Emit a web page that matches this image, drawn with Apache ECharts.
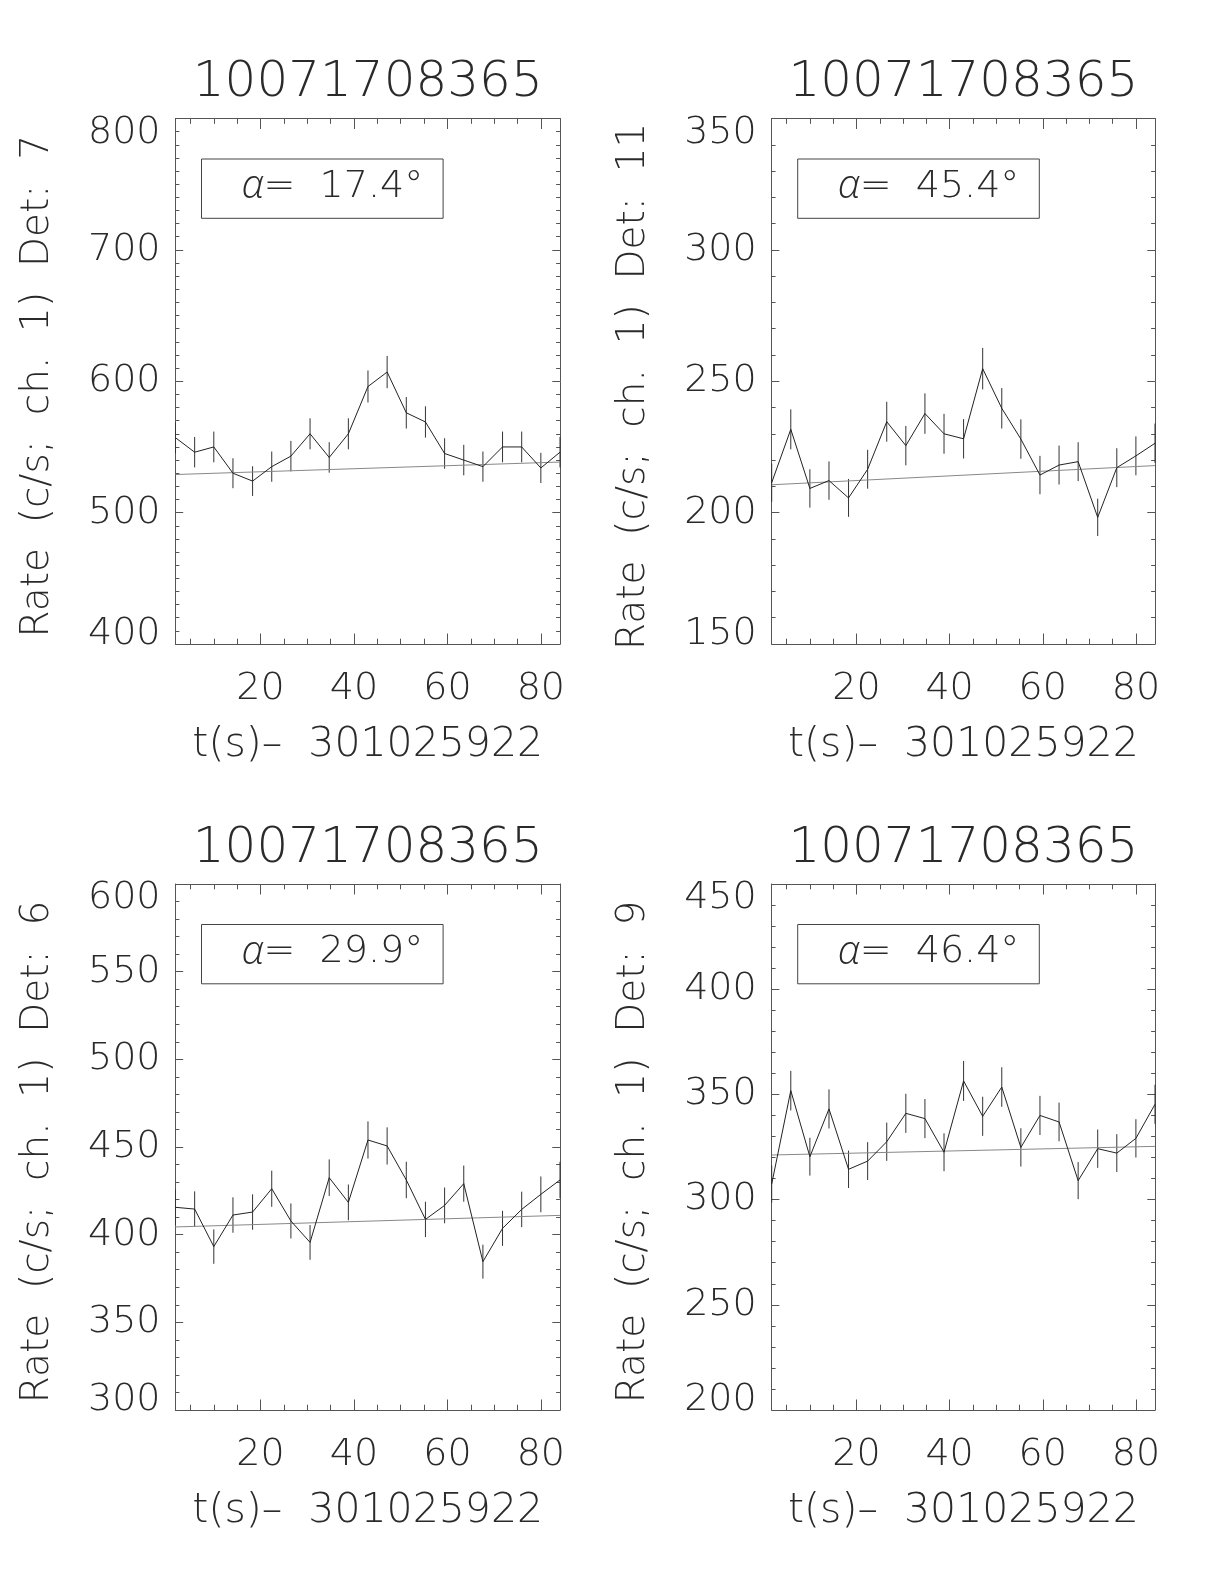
<!DOCTYPE html>
<html>
<head>
<meta charset="utf-8">
<script src="https://cdn.jsdelivr.net/npm/echarts@6/dist/echarts.min.js"></script>
<style>
html,body{margin:0;padding:0;background:#fff;}
#chart{width:1224px;height:1584px;}
</style>
</head>
<body>
<div id="chart"></div>
<script>
// ---- data ----
const chartTitle = '10071708365';
const xAxisName = 't(s)\u2013  301025922';
const yAxisNamePrefix = 'Rate  (c/s;  ch.  1)  Det:  ';
const timeBins = [1.8, 5.9, 10.0, 14.1, 18.3, 22.4, 26.5, 30.6, 34.7, 38.8, 43.0, 47.1, 51.2, 55.3, 59.4, 63.5, 67.6, 71.8, 75.9, 80.0, 84.1];
const xMajorTicks = [20, 40, 60, 80];
const xMinorTicks = [5, 10, 15, 20, 25, 30, 35, 40, 45, 50, 55, 60, 65, 70, 75, 80];

const detectors = ['7', '11', '6', '9'];
const alphaAngles = ['17.4', '45.4', '29.9', '46.4'];

const rateDet7 = [557, 546, 550, 530, 524, 535, 543, 560, 542, 560, 596, 607, 576, 569, 545, 540, 535, 550, 550, 534, 546];
const errDet7 = [11.8, 11.6, 11.7, 11.4, 11.3, 11.5, 11.6, 11.8, 11.6, 11.8, 12.2, 12.3, 12.0, 11.9, 11.6, 11.6, 11.5, 11.7, 11.7, 11.5, 11.6];
const bgDet7 = [529, 538.5];

const rateDet11 = [211.4, 231.7, 209.2, 212.2, 205.6, 216.5, 234.6, 225.5, 237.7, 230, 228.1, 254.8, 239.7, 228, 214.3, 218.1, 219.4, 198.2, 217.1, 221.6, 226.4];
const errDet11 = [7.3, 7.6, 7.3, 7.3, 7.2, 7.4, 7.6, 7.5, 7.7, 7.6, 7.5, 7.9, 7.7, 7.5, 7.3, 7.4, 7.4, 7.1, 7.4, 7.4, 7.5];
const bgDet11 = [210.6, 217.9];

const rateDet6 = [415.6, 414.6, 393.2, 411.2, 412.9, 426.2, 407.8, 395.6, 432.5, 418.4, 454, 450.6, 431.2, 408.7, 416.7, 429.1, 384.6, 403.6, 414.4, 423, 431.2];
const errDet6 = [10.1, 10.1, 9.8, 10.1, 10.1, 10.3, 10.0, 9.9, 10.4, 10.2, 10.6, 10.6, 10.4, 10.1, 10.2, 10.3, 9.7, 10.0, 10.1, 10.2, 10.4];
const bgDet6 = [404.4, 411];

const rateDet9 = [307.4, 351.8, 320.4, 343.1, 314.4, 318.3, 327.5, 341, 338.5, 322.5, 356.4, 339.6, 353.5, 324.8, 340, 336.9, 309, 324.2, 322.1, 329.1, 345.3];
const errDet9 = [8.8, 9.4, 9.0, 9.3, 8.9, 9.0, 9.1, 9.3, 9.3, 9.0, 9.5, 9.3, 9.4, 9.1, 9.3, 9.2, 8.8, 9.1, 9.0, 9.1, 9.3];
const bgDet9 = [321.2, 325.3];

const yMins = [400, 150, 300, 200];
const yMaxs = [800, 350, 600, 450];
const yIntervals = [100, 50, 50, 50];
const yMinorSplits = [10, 5, 5, 5];

const rates = [rateDet7, rateDet11, rateDet6, rateDet9];
const errs = [errDet7, errDet11, errDet6, errDet9];
const bgs = [bgDet7, bgDet11, bgDet6, bgDet9];

// ---- layout / style ----
const FONT = "'DejaVu Sans', sans-serif";
const FW = 200;
const TXT = '#2a2a2a';
const AXC = '#555';
const grids = [
  {left: 175.5, top: 118.5, width: 384.5, height: 525.5},
  {left: 771.7, top: 118.5, width: 383.3, height: 525.5},
  {left: 175.5, top: 884, width: 384.5, height: 526},
  {left: 771.7, top: 884, width: 383.3, height: 526}
];

const xAxes = [], yAxes = [], series = [], graphics = [];
grids.forEach((g, p) => {
  const xMin = timeBins[0], xMax = timeBins[timeBins.length - 1];
  const baseX = {gridIndex: p, type: 'value', min: xMin, max: xMax, splitLine: {show: false}};
  xAxes.push(Object.assign({}, baseX, {
    position: 'bottom',
    axisLine: {show: true, lineStyle: {color: AXC, width: 1}},
    axisTick: {show: true, inside: true, length: 10.5, customValues: xMajorTicks, lineStyle: {color: AXC}},
    axisLabel: {show: true, customValues: xMajorTicks, margin: 26, fontSize: 38, fontFamily: FONT, fontWeight: FW, color: TXT},
    name: xAxisName, nameLocation: 'middle', nameGap: 81,
    nameTextStyle: {fontSize: 41, fontFamily: FONT, fontWeight: FW, color: TXT}
  }));
  xAxes.push(Object.assign({}, baseX, {
    position: 'bottom', axisLine: {show: false},
    axisTick: {show: true, inside: true, length: 5.3, customValues: xMinorTicks, lineStyle: {color: AXC}},
    axisLabel: {show: false}
  }));
  xAxes.push(Object.assign({}, baseX, {
    position: 'top',
    axisLine: {show: true, lineStyle: {color: AXC, width: 1}},
    axisTick: {show: true, inside: true, length: 10.5, customValues: xMajorTicks, lineStyle: {color: AXC}},
    axisLabel: {show: false}
  }));
  xAxes.push(Object.assign({}, baseX, {
    position: 'top', axisLine: {show: false},
    axisTick: {show: true, inside: true, length: 5.3, customValues: xMinorTicks, lineStyle: {color: AXC}},
    axisLabel: {show: false}
  }));

  const baseY = {gridIndex: p, type: 'value', min: yMins[p], max: yMaxs[p], interval: yIntervals[p], splitLine: {show: false},
    axisLine: {show: true, lineStyle: {color: AXC, width: 1}},
    axisTick: {show: true, inside: true, length: 7.7, lineStyle: {color: AXC}},
    minorTick: {show: true, splitNumber: yMinorSplits[p], length: 3.9, lineStyle: {color: AXC}}};
  yAxes.push(Object.assign({}, baseY, {
    position: 'left',
    axisLabel: {show: true, margin: 15, fontSize: 38, lineHeight: 19, padding: [5, 0, 0, 0], fontFamily: FONT, fontWeight: FW, color: TXT,
      verticalAlignMinLabel: 'bottom', verticalAlignMaxLabel: 'top'},
    name: yAxisNamePrefix + detectors[p], nameLocation: 'middle', nameGap: 118,
    nameTextStyle: {fontSize: 39, fontFamily: FONT, fontWeight: FW, color: TXT, padding: [0, 10, 0, 0]}
  }));
  yAxes.push(Object.assign({}, baseY, {position: 'right', axisLabel: {show: false}}));

  const xi = 4 * p, yi = 2 * p;
  series.push({
    type: 'line', xAxisIndex: xi, yAxisIndex: yi, symbol: 'none', silent: true,
    lineStyle: {color: '#888', width: 1},
    data: [[timeBins[0], bgs[p][0]], [timeBins[timeBins.length - 1], bgs[p][1]]]
  });
  series.push({
    type: 'line', xAxisIndex: xi, yAxisIndex: yi, symbol: 'none', silent: true,
    lineStyle: {color: '#222', width: 1},
    data: timeBins.map((t, i) => [t, rates[p][i]])
  });
  series.push({
    type: 'custom', xAxisIndex: xi, yAxisIndex: yi, silent: true,
    data: timeBins.map((t, i) => [t, rates[p][i], errs[p][i]]),
    renderItem: function (params, api) {
      const x = api.value(0), y = api.value(1), e = api.value(2);
      const a = api.coord([x, y - e]), b = api.coord([x, y + e]);
      return {type: 'line', shape: {x1: a[0], y1: a[1], x2: b[0], y2: b[1]}, style: {stroke: '#333', lineWidth: 1}};
    }
  });

  // panel title
  graphics.push({
    type: 'text', x: g.left + g.width / 2, y: g.top - 35,
    style: {text: chartTitle, fontSize: 50, fontFamily: FONT, fontWeight: FW, fill: TXT, align: 'center', verticalAlign: 'middle'}
  });
  // alpha box
  graphics.push({
    type: 'rect', shape: {x: g.left + 26, y: g.top + 40.5, width: 241.6, height: 59.3},
    style: {fill: 'none', stroke: '#444', lineWidth: 1}
  });
  graphics.push({
    type: 'text', x: g.left + 26 + 241.6 / 2 + 10, y: g.top + 40.5 + 28,
    style: {
      text: '{a|\u03b1}=  ' + alphaAngles[p] + '\u00b0',
      fontSize: 38, fontFamily: FONT, fontWeight: FW, fill: TXT, align: 'center', verticalAlign: 'middle',
      rich: {a: {fontSize: 40, fontFamily: "'Open Sans', 'Noto Sans', sans-serif", fontWeight: 300, fontStyle: 'italic', fill: TXT}}
    }
  });
});

const chart = echarts.init(document.getElementById('chart'), null, {renderer: 'canvas'});
chart.setOption({
  backgroundColor: '#fff',
  animation: false,
  grid: grids,
  xAxis: xAxes,
  yAxis: yAxes,
  series: series,
  graphic: graphics
});
</script>
</body>
</html>
